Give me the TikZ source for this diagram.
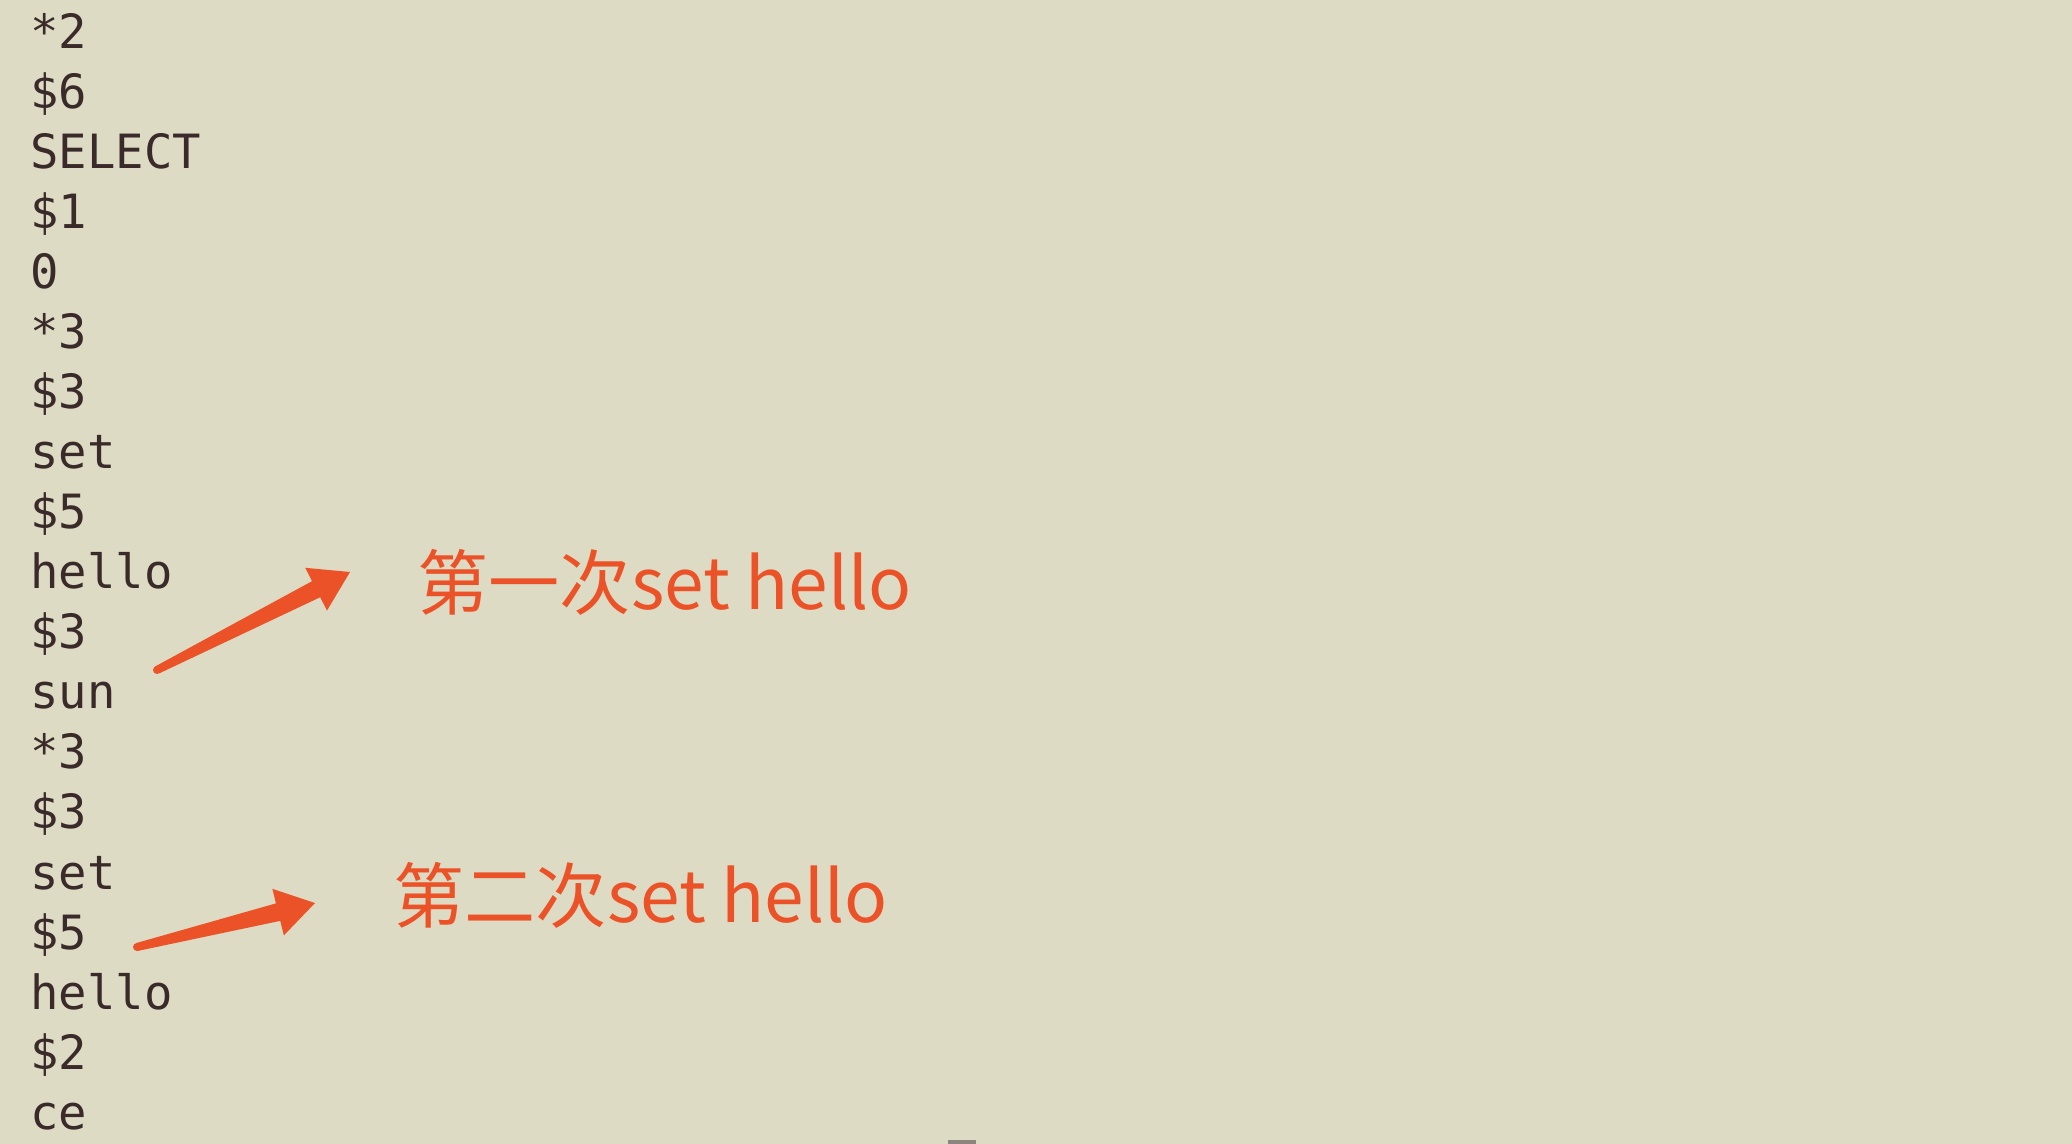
\documentclass[tikz,border=0pt]{standalone}
\usepackage{fontspec}
\setmonofont{DejaVu Sans Mono}
\newfontfamily\cjk{Noto Sans CJK SC}
\usetikzlibrary{calc}

\definecolor{paper}{RGB}{221,219,196}
\definecolor{ink}{RGB}{58,42,42}
\definecolor{markred}{RGB}{236,82,40}
\definecolor{bargray}{RGB}{140,132,126}

% tapered pointer: #1 tail, #2 tip
\newcommand{\markarrow}[2]{%
  \coordinate (#1-base) at ($(#2)!19pt!(#1)$);
  \fill[markred] ($(#1)!2pt!90:(#2)$) -- ($(#1-base)!4.5pt!90:(#2)$)
    -- ($(#1-base)!12pt!90:(#2)$) -- (#2) -- ($(#1-base)!12pt!-90:(#2)$)
    -- ($(#1-base)!4.5pt!-90:(#2)$) -- ($(#1)!2pt!-90:(#2)$) -- cycle;
  \fill[markred] (#1) circle (2pt);
}

\begin{document}
\begin{tikzpicture}
        [x=0.5pt, y=-0.5pt,
         code/.style={anchor=base west, inner sep=0pt, text=ink, font=\ttfamily\fontsize{23.6}{23.6}\selectfont},
         note/.style={anchor=base west, inner sep=0pt, text=markred, font=\cjk\fontsize{35.6}{35.6}\selectfont}]

        \fill[paper] (0,0) rectangle (2072,1144);

        \foreach \t [count=\k from 0] in {*2, \$6, SELECT, \$1, 0, *3, \$3, set, \$5, hello, \$3, sun, *3, \$3, set, \$5, hello, \$2, ce}
        \node[code] (line-\k) at (30, 48.2+60.06*\k) {\t};

        \node[note] (first) at (417, 609) {第一次set hello};
        \node[note] (second) at (393, 922) {第二次set hello};

        \coordinate (first-tail) at (157, 670);
        \coordinate (first-tip) at (350, 572);
        \coordinate (second-tail) at (137, 947);
        \coordinate (second-tip) at (315, 903);

        \markarrow{first-tail}{first-tip}
        \markarrow{second-tail}{second-tip}

        \fill[bargray] (948, 1140) rectangle (976, 1144);

    \end{tikzpicture}
\end{document}
